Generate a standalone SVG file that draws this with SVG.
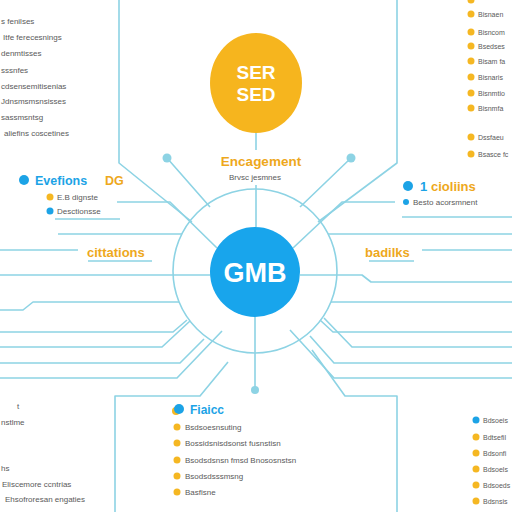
<svg xmlns="http://www.w3.org/2000/svg" width="512" height="512" viewBox="0 0 512 512">
<style>
.ln{fill:none;stroke:#8DD3E4;stroke-width:1.6;stroke-linejoin:round}
.g{font-family:"Liberation Sans",Arial,sans-serif;font-size:8px;fill:#5a5a5a}
.s{font-family:"Liberation Sans",Arial,sans-serif;font-size:7px;fill:#5a5a5a}
.o{font-family:"Liberation Sans",Arial,sans-serif;font-weight:bold;fill:#EEA81C}
.b{font-family:"Liberation Sans",Arial,sans-serif;font-weight:bold;fill:#1CA3E6}
.w{font-family:"Liberation Sans",Arial,sans-serif;font-weight:bold;fill:#ffffff;text-anchor:middle}
.od{fill:#F5B722}
.bd{fill:#1CA3E6}
.sd{fill:#8DD3E4}
</style>
<rect width="512" height="512" fill="#ffffff"/>
<g id="connectors">
<circle class="ln" cx="255" cy="271" r="82"/>
<path class="ln" d="M119,0 V163 L192,222"/>
<path class="ln" d="M397,0 V163 L318,222"/>
<path class="ln" d="M167,158 L210,207 M351,158 L300,207"/>
<path class="ln" d="M117,202 H170 L217,248"/>
<path class="ln" d="M395,202 H342 L293,248"/>
<path class="ln" d="M256,133 V150 M256,185 V227 M255,317 V390"/>
<path class="ln" d="M55,219 H120 M58,234 H182 M0,250 H78 M88,261 H152"/>
<path class="ln" d="M0,275 H210"/>
<path class="ln" d="M0,310 H23 L33,302 H179"/>
<path class="ln" d="M0,332 H173 L187,320"/>
<path class="ln" d="M0,347 H162 L190,321"/>
<path class="ln" d="M0,363 H180 L204,339"/>
<path class="ln" d="M0,378 H177 L222,331"/>
<path class="ln" d="M115,512 V396 H200 L228,362"/>
<path class="ln" d="M402,217 H512 M328,234 H512 M422,250 H512 M369,261 H414"/>
<path class="ln" d="M300,275 H362 L371,282 H512"/>
<path class="ln" d="M331,302 H512"/>
<path class="ln" d="M324,318 L352,347 H512"/>
<path class="ln" d="M320,320 L333,332 H512"/>
<path class="ln" d="M310,336 L334,363 H512"/>
<path class="ln" d="M290,330 L334,378 H512"/>
<path class="ln" d="M312,350 L345,396 H397 V512"/>
<circle class="sd" cx="167" cy="158" r="4.5"/>
<circle class="sd" cx="351" cy="158" r="4.5"/>
<circle class="sd" cx="255" cy="390" r="4"/>
</g>
<g id="node-gmb">
<circle cx="255" cy="272" r="45" fill="#18A5EC"/>
<text class="w" x="255" y="282" font-size="27">GMB</text>
</g>
<g id="node-sed">
<ellipse cx="256" cy="83" rx="46" ry="50" fill="#F6B51E"/>
<text class="w" x="256" y="79" font-size="19">SER</text>
<text class="w" x="256" y="101" font-size="19">SED</text>
</g>
<g id="node-engagement">
<text class="o" x="261" y="166" text-anchor="middle" font-size="13.5">Encagement</text>
<text class="g" x="255" y="180" text-anchor="middle">Brvsc jesmnes</text>
</g>
<g id="node-top-left">
<text class="g" x="1" y="24">s fenilses</text>
<text class="g" x="3" y="40">Itfe ferecesnings</text>
<text class="g" x="1" y="56">denmtisses</text>
<text class="g" x="1" y="73">sssnfes</text>
<text class="g" x="1" y="89">cdsensemitisenias</text>
<text class="g" x="1" y="104">Jdnsmsmsnsisses</text>
<text class="g" x="1" y="120">sassmsntsg</text>
<text class="g" x="4" y="136">aliefins coscetines</text>
</g>
<g id="node-top-right">
<circle class="od" cx="471" cy="0" r="3.5"/>
<circle class="od" cx="471" cy="14" r="3.5"/><text class="s" x="478" y="17">Bisnaen</text>
<circle class="od" cx="471" cy="32" r="3.5"/><text class="s" x="478" y="35">Bisncom</text>
<circle class="od" cx="471" cy="46" r="3.5"/><text class="s" x="478" y="49">Bsedses</text>
<circle class="od" cx="471" cy="61" r="3.5"/><text class="s" x="478" y="64">Bisam fa</text>
<circle class="od" cx="471" cy="77" r="3.5"/><text class="s" x="478" y="80">Bisnaris</text>
<circle class="od" cx="471" cy="93" r="3.5"/><text class="s" x="478" y="96">Bisnmtio</text>
<circle class="od" cx="471" cy="108" r="3.5"/><text class="s" x="478" y="111">Bisnmfa</text>
<circle class="od" cx="471" cy="137" r="3.5"/><text class="s" x="478" y="140">Dssfaeu</text>
<circle class="od" cx="471" cy="154" r="3.5"/><text class="s" x="478" y="157">Bsasce fc</text>
</g>
<g id="node-evefions">
<circle class="bd" cx="24" cy="180" r="5"/>
<text class="b" x="35" y="185" font-size="12.5">Evefions</text>
<text class="o" x="105" y="185" font-size="12.5">DG</text>
<circle class="od" cx="50" cy="197" r="3.5"/>
<text class="g" x="57" y="200">E.B dignste</text>
<circle class="bd" cx="50" cy="211" r="3.5"/>
<text class="g" x="57" y="214">Desctionsse</text>
</g>
<g id="node-ciollins">
<circle class="bd" cx="408" cy="186" r="5"/>
<text class="b" x="420" y="191" font-size="13">1</text>
<text class="o" x="431" y="191" font-size="13">cioliins</text>
<circle class="bd" cx="406" cy="202" r="3"/>
<text class="g" x="413" y="205">Besto acorsmnent</text>
</g>
<g id="node-cittations">
<text class="o" x="87" y="257" font-size="13">cittations</text>
</g>
<g id="node-badilks">
<text class="o" x="365" y="257" font-size="13">badilks</text>
</g>
<g id="node-fiaicc">
<circle class="od" cx="176" cy="411" r="4"/>
<circle class="bd" cx="179" cy="409" r="5"/>
<text class="b" x="190" y="414" font-size="12">Fiaicc</text>
<circle class="od" cx="177" cy="427" r="3.5"/><text class="g" x="185" y="430">Bsdsoesnsuting</text>
<circle class="od" cx="177" cy="443" r="3.5"/><text class="g" x="185" y="446">Bossidsnisdsonst fusnstisn</text>
<circle class="od" cx="177" cy="460" r="3.5"/><text class="g" x="185" y="463">Bsodsdsnsn fmsd Bnososnstsn</text>
<circle class="od" cx="177" cy="476" r="3.5"/><text class="g" x="185" y="479">Bsodsdsssmsng</text>
<circle class="od" cx="177" cy="492" r="3.5"/><text class="g" x="185" y="495">Basfisne</text>
</g>
<g id="node-bottom-left">
<text class="g" x="17" y="409">t</text>
<text class="g" x="1" y="425">nstlme</text>
<text class="g" x="1" y="471">hs</text>
<text class="g" x="2" y="487">Eliscemore ccntrias</text>
<text class="g" x="5" y="502">Ehsofroresan engaties</text>
</g>
<g id="node-bottom-right">
<circle class="bd" cx="476" cy="420" r="3.5"/><text class="s" x="483" y="423">Bdsoeis</text>
<circle class="od" cx="476" cy="437" r="3.5"/><text class="s" x="483" y="440">Bdtsefil</text>
<circle class="od" cx="476" cy="453" r="3.5"/><text class="s" x="483" y="456">Bdsonfi</text>
<circle class="od" cx="476" cy="469" r="3.5"/><text class="s" x="483" y="472">Bdsoels</text>
<circle class="od" cx="476" cy="485" r="3.5"/><text class="s" x="483" y="488">Bdsoeds</text>
<circle class="od" cx="476" cy="501" r="3.5"/><text class="s" x="483" y="504">Bdsnsis</text>
</g>
</svg>
